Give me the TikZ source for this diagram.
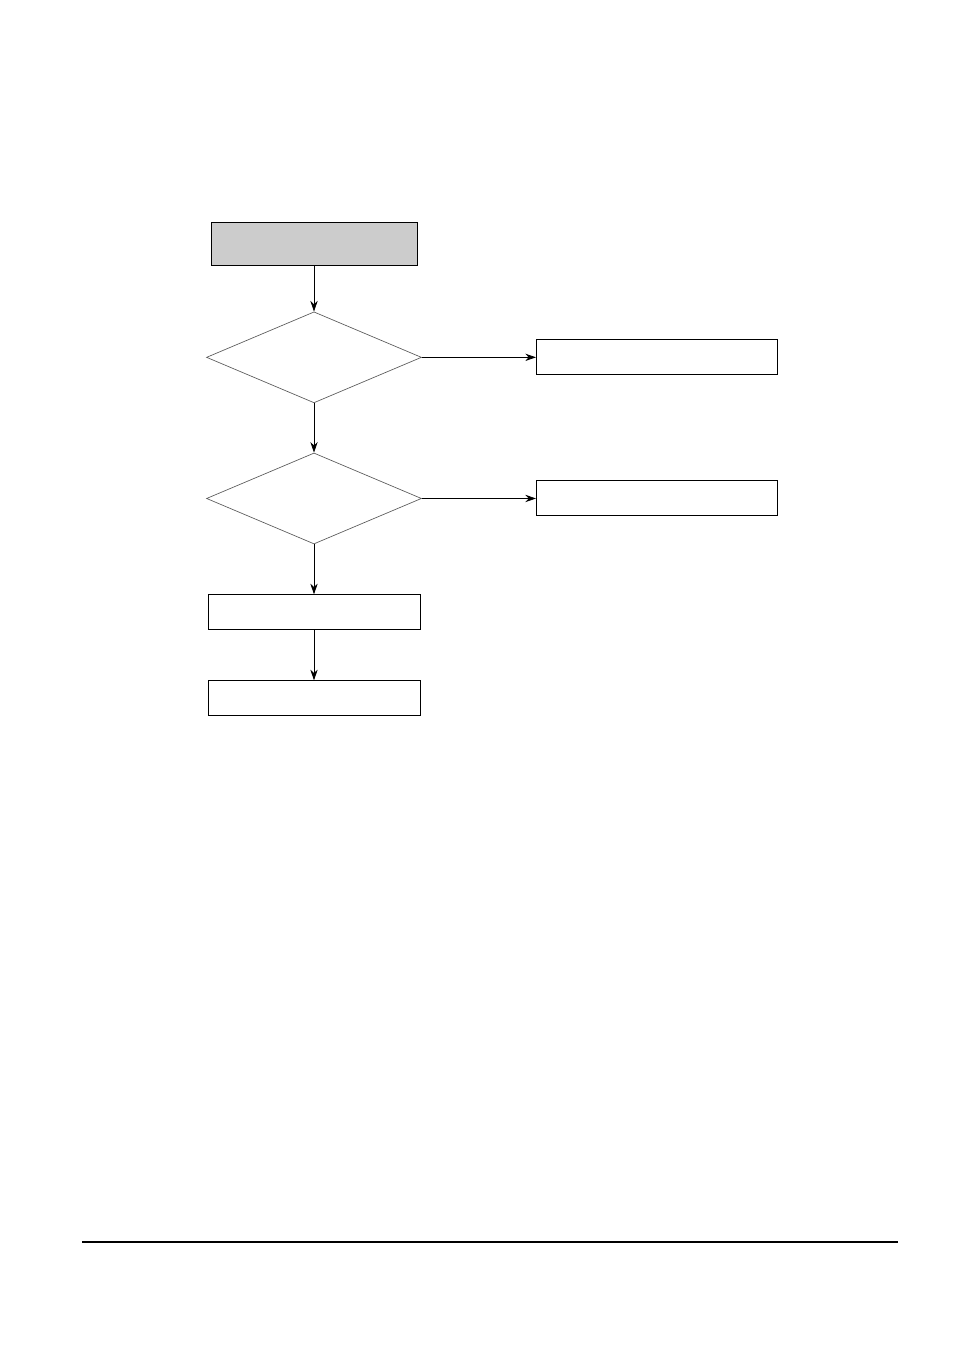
\documentclass[tikz,border=0pt]{standalone}
\usepackage{tikz}
\usetikzlibrary{positioning,arrows.meta,shapes.geometric}

\begin{document}
\begin{tikzpicture}[x=0.75pt,y=-0.75pt,>={Stealth[length=8pt,width=5.5pt]},
    box/.style={rectangle,draw,line width=0.75pt,inner sep=0pt,
      minimum height=26.25pt},
    choice/.style={diamond,draw=black!65,line width=0.5pt,inner sep=0pt,
      minimum width=161.25pt,minimum height=68.25pt}]
      \useasboundingbox (0,0) rectangle (954,1350);
      \node[box,fill=black!20,minimum width=154.5pt,minimum height=32.25pt]
      (start) at (314,243.5) {};
      \node[choice,below=34.5pt of start] (q1) {};
      \node[box,minimum width=180.75pt,right=85.6pt of q1] (r1) {};
      \node[choice,below=37.1pt of q1] (q2) {};
      \node[box,minimum width=180.75pt,right=85.6pt of q2] (r2) {};
      \node[box,minimum width=159pt,below=37.5pt of q2] (s1) {};
      \node[box,minimum width=159pt,below=37.5pt of s1] (s2) {};

      \draw[->,line width=0.6pt] (start) edge (q1);
      \draw[->,line width=0.6pt] (q1) edge (q2) (q1) edge (r1);
      \draw[->,line width=0.6pt] (q2) edge (s1) (q2) edge (r2);
      \draw[->,line width=0.6pt] (s1) edge (s2);

      \coordinate (footl) at (82,1242); \coordinate (footr) at (898,1242);
      \draw[line width=1.5pt] (footl) -- (footr);
    \end{tikzpicture}
\end{document}
